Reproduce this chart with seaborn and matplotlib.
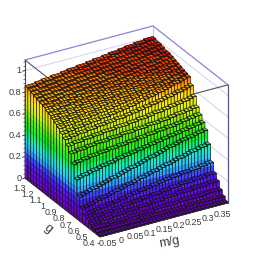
import numpy as np
import seaborn as sns
import matplotlib
matplotlib.use('Agg')
import matplotlib.pyplot as plt
from mpl_toolkits.mplot3d import proj3d
from mpl_toolkits.mplot3d.art3d import Poly3DCollection, Line3DCollection

# bin edges of the two axes
mg_edges = np.linspace(-0.05, 0.35, 41)
g_edges = np.linspace(0.4, 1.3, 27)

z_ticks = [0, 0.2, 0.4, 0.6, 0.8, 1]
z_tick_labels = ['0', '0.2', '0.4', '0.6', '0.8', '1']
g_ticks = [0.4, 0.5, 0.6, 0.7, 0.8, 0.9, 1, 1.1, 1.2, 1.3]
g_tick_labels = ['0.4', '0.5', '0.6', '0.7', '0.8', '0.9', '1', '1.1', '1.2', '1.3']
mg_ticks = [-0.05, 0, 0.05, 0.1, 0.15, 0.2, 0.25, 0.3, 0.35]
mg_tick_labels = ['-0.05', '0', '0.05', '0.1', '0.15', '0.2', '0.25', '0.3', '0.35']

# bin contents in percent, one row per g bin (low g first)
z_pct = [
    [1] * 40,
    [2] * 14 + [3] * 14 + [4] * 12,
    [3,3,3,3,3,4,4,4,4,4,4,5,5,5,5,5,5,5,5,6,6,6,6,6,6,6,6,7,7,7,7,7,7,7,7,8,8,8,8,8],
    [5,5,5,6,6,6,6,7,7,7,7,8,8,8,8,9,9,9,9,10,10,10,10,11,11,11,11,12,12,12,12,12,13,13,13,13,13,14,14,14],
    [7,7,8,8,8,9,9,9,10,10,10,11,11,11,12,12,12,13,13,13,14,14,14,15,15,15,16,16,16,17,17,17,17,18,18,18,18,19,19,19],
    [9,10,10,11,11,12,12,13,13,14,14,15,15,16,16,17,17,18,18,19,19,20,20,21,21,22,22,23,23,23,24,24,24,25,25,25,26,26,27,27],
    [13,14,15,15,16,17,18,18,19,20,21,21,22,23,24,24,25,26,27,27,28,29,30,30,31,32,33,33,34,35,36,36,37,38,39,39,40,41,41,42],
    [22,23,24,25,26,26,27,28,29,30,31,31,32,33,34,35,36,36,37,38,39,40,41,41,42,43,44,45,46,46,47,48,49,49,50,50,51,52,52,53],
    [36,37,38,38,39,40,40,41,42,42,43,43,44,45,45,46,46,47,47,48,48,49,49,50,50,51,51,52,52,53,53,54,54,55,55,56,56,57,57,58],
    [48,49,49,50,50,51,51,51,52,52,52,53,53,53,54,54,54,55,55,55,56,56,56,57,57,57,58,58,58,59,59,59,60,60,61,61,62,62,63,63],
    [56,56,57,57,57,58,58,58,59,59,59,59,60,60,60,60,61,61,61,61,62,62,62,62,63,63,63,63,64,64,64,65,65,66,66,66,67,67,68,68],
    [61,61,62,62,62,63,63,63,64,64,64,65,65,65,65,66,66,66,66,67,67,67,68,68,68,69,69,70,70,70,71,71,72,72,73,73,74,74,75,76],
    [65,65,66,66,67,67,67,68,68,68,69,69,69,70,70,70,71,71,71,72,72,73,73,74,74,75,75,76,76,77,77,78,79,79,80,81,81,82,83,84],
    [68,68,69,69,70,70,70,71,71,72,72,72,73,73,73,74,74,75,75,76,76,77,77,78,79,79,80,81,81,82,83,83,84,85,86,87,87,88,89,90],
    [71,71,72,72,72,73,73,74,74,74,75,75,76,76,76,77,77,78,78,79,79,80,80,81,81,82,83,83,84,84,85,85,86,87,87,88,89,89,90,91],
    [73,73,74,74,75,75,75,76,76,77,77,77,78,78,79,79,80,80,81,81,82,82,82,83,83,84,84,85,85,86,86,87,87,88,88,89,90,90,91,92],
    [75,75,76,76,76,77,77,78,78,79,79,79,80,80,81,81,82,82,82,83,83,84,84,85,85,86,86,87,87,88,88,89,89,90,90,91,91,92,92,93],
    [77,77,77,78,78,79,79,79,80,80,81,81,82,82,82,83,83,84,84,85,85,85,86,86,87,87,88,88,89,89,90,90,91,91,92,92,92,93,93,94],
    [78,78,79,79,80,80,80,81,81,82,82,83,83,83,84,84,85,85,86,86,86,87,87,88,88,89,89,90,90,91,91,92,92,92,93,93,94,94,95,95],
    [80,80,80,81,81,82,82,82,83,83,84,84,84,85,85,86,86,86,87,87,88,88,88,89,89,90,90,90,91,91,92,92,93,93,93,94,94,95,95,96],
    [81,81,82,82,82,83,83,84,84,84,85,85,85,86,86,87,87,87,88,88,89,89,89,90,90,91,91,91,92,92,93,93,94,94,95,95,95,96,96,97],
    [82,82,83,83,83,84,84,84,85,85,86,86,86,87,87,87,88,88,88,89,89,90,90,90,91,91,91,92,92,93,93,93,94,94,95,95,96,96,97,97],
    [83,83,84,84,84,85,85,85,86,86,87,87,87,88,88,88,89,89,89,90,90,91,91,91,92,92,92,93,93,94,94,94,95,95,96,96,97,97,98,98],
    [84,84,85,85,85,86,86,86,87,87,88,88,88,89,89,89,90,90,90,91,91,92,92,92,93,93,93,94,94,95,95,95,96,96,97,97,98,98,99,99],
    [85,85,85,86,86,87,87,87,88,88,88,89,89,89,90,90,90,91,91,92,92,92,93,93,93,94,94,95,95,95,96,96,97,97,97,98,98,99,99,99],
    [86,86,86,87,87,88,88,88,89,89,89,90,90,91,91,91,92,92,92,93,93,94,94,94,95,95,96,96,96,97,97,98,98,98,99,99,99,100,100,100],
]

W, H = 254, 264
Z_TOP = 1.098

sns.set_style('white')
plt.rcParams['font.family'] = ['Liberation Sans', 'DejaVu Sans']

# one colour per 0.05 band of z
band_step = 0.05
band_colors = sns.blend_palette(
    ['#6400b0', '#5a00d8', '#3a30ff', '#20c8ff', '#10f0c0', '#00f020', '#50f000',
     '#c8f000', '#ffe800', '#ffa000', '#ff3000', '#e00000', '#b00000'], n_colors=23)


def band_color(z):
    return band_colors[min(int(z / band_step), len(band_colors) - 1)]


def wall_faces(z0, z1, corner_a, corner_b):
    """Split one vertical wall between z0 and z1 in colour bands."""
    cuts = np.arange(np.floor(z0 / band_step), np.ceil(z1 / band_step) + 1) * band_step
    cuts = np.clip(cuts, z0, z1)
    faces, colors = [], []
    for lo, hi in zip(cuts[:-1], cuts[1:]):
        if hi <= lo:
            continue
        faces.append([(*corner_a, lo), (*corner_b, lo), (*corner_b, hi), (*corner_a, hi)])
        colors.append(band_color((lo + hi) / 2))
    return faces, colors


fig = plt.figure(figsize=(W / 100, H / 100), dpi=100)
ax = fig.add_axes([0, 0, 1, 1], projection='3d', computed_zorder=False)
ax.set_proj_type('ortho')
ax.view_init(elev=27.2, azim=-120.2)
ax.set_xlim(mg_edges[0], mg_edges[-1], view_margin=0)
ax.set_ylim(g_edges[0], g_edges[-1], view_margin=0)
ax.set_zlim(0, Z_TOP, view_margin=0)
ax.set_axis_off()
ax.patch.set_alpha(0)


def to_px(m, g, z):
    x, y, _ = proj3d.proj_transform(m, g, z, ax.get_proj())
    px = ax.transData.transform((x, y))
    return px[0], H - px[1]


# fit the box on the canvas: front corner and width of the m/g edge
aspect = (148, 149, 132.7)
ax.set_box_aspect(aspect)
ax.apply_aspect()
width = to_px(mg_edges[-1], g_edges[0], 0)[0] - to_px(mg_edges[0], g_edges[0], 0)[0]
ax.set_box_aspect(aspect, zoom=128 / width)
ax.apply_aspect()
fx, fy = to_px(mg_edges[0], g_edges[0], 0)
pos = ax.get_position()
ax.set_position([pos.x0 + (100 - fx) / W, pos.y0 - (237 - fy) / H, pos.width, pos.height])
ax.apply_aspect()

mg0, mg1 = mg_edges[0], mg_edges[-1]
g0, g1 = g_edges[0], g_edges[-1]

# back walls and box
for z in z_ticks:
    ax.plot([mg0, mg1, mg1], [g1, g1, g0], [z, z, z], color='#d8d4f2', lw=0.8, zorder=0)
ax.plot([mg1, mg1], [g1, g1], [0, Z_TOP], color='#c4bee8', lw=0.8, zorder=0)
ax.plot([mg0, mg1, mg1], [g1, g1, g0], [Z_TOP] * 3, color='#8f84d6', lw=0.9, zorder=0)
ax.plot([mg0, mg0, mg1], [g1, g0, g0], [Z_TOP] * 3, color='#555555', lw=0.8, zorder=0)

# lego columns, painted from the back corner to the front corner
order = 1
for i in range(len(mg_edges) - 2, -1, -1):
    for j in range(len(g_edges) - 2, -1, -1):
        z = z_pct[j][i] / 100
        xa, xb = mg_edges[i], mg_edges[i + 1]
        ya, yb = g_edges[j], g_edges[j + 1]
        z_left = z_pct[j][i - 1] / 100 if i > 0 else 0
        z_front = z_pct[j - 1][i] / 100 if j > 0 else 0

        faces = [[(xa, ya, z), (xb, ya, z), (xb, yb, z), (xa, yb, z)]]
        colors = [band_color(z)]
        outlines = [faces[0] + [faces[0][0]]]
        if z > z_left:
            f, c = wall_faces(z_left, z, (xa, ya), (xa, yb))
            faces += f
            colors += c
            outlines.append([(xa, ya, z_left), (xa, yb, z_left), (xa, yb, z), (xa, ya, z), (xa, ya, z_left)])
        if z > z_front:
            f, c = wall_faces(z_front, z, (xa, ya), (xb, ya))
            faces += f
            colors += c
            outlines.append([(xa, ya, z_front), (xb, ya, z_front), (xb, ya, z), (xa, ya, z), (xa, ya, z_front)])

        fill = Poly3DCollection(faces, facecolors=colors, edgecolors=colors, linewidths=0.15, zorder=order)
        ax.add_collection3d(fill, autolim=False)
        lines = Line3DCollection(outlines, colors='#101010', linewidths=0.45, zorder=order + 1)
        ax.add_collection3d(lines, autolim=False)
        order += 2

# front axes
ax.plot([mg0, mg0], [g1, g1], [0, Z_TOP], color='#444444', lw=0.8, zorder=order)
ax.plot([mg1, mg1], [g0, g0], [0, Z_TOP], color='#55557a', lw=0.9, zorder=order)
ax.plot([mg0, mg0, mg1], [g1, g0, g0], [0, 0, 0], color='#333333', lw=0.7, zorder=order)

for z in np.arange(0, 1.09, 0.04):
    ax.plot([mg0, mg0 - 0.004], [g1, g1], [z, z], color='#444444', lw=0.5, zorder=order)
for z in z_ticks:
    ax.plot([mg0, mg0 - 0.008], [g1, g1], [z, z], color='#444444', lw=0.6, zorder=order)

text_color = '#3a3a3a'


def put_text(px, py, label, **kw):
    fig.text(px / W, 1 - py / H, label, ha='center', va='center', color=text_color, **kw)


for z, label in zip(z_ticks, z_tick_labels):
    px, py = to_px(mg0, g1, z)
    fig.text((px - 3.5) / W, 1 - py / H, label, ha='right', va='center', color=text_color, fontsize=6.6)

for g, label in zip(g_ticks, g_tick_labels):
    frac = (g - g0) / (g1 - g0)
    px, py = to_px(mg0, g, 0)
    put_text(px - 10.7 + 5.7 * frac, py + 6.7 + 3.3 * frac, label, fontsize=6.4)

for m, label in zip(mg_ticks, mg_tick_labels):
    frac = (m - mg0) / (mg1 - mg0)
    px, py = to_px(m, g0, 0)
    put_text(px + 7 - 13 * frac, py + 7 + 5 * frac, label, fontsize=6.4)

px, py = to_px(mg0, 0.8, 0)
put_text(px - 19, py + 18, 'g', fontsize=9, rotation=-40)
px, py = to_px(0.15, g0, 0)
put_text(px + 5, py + 22, 'm/g', fontsize=9, rotation=10)

fig.savefig('out.png', dpi=100)
